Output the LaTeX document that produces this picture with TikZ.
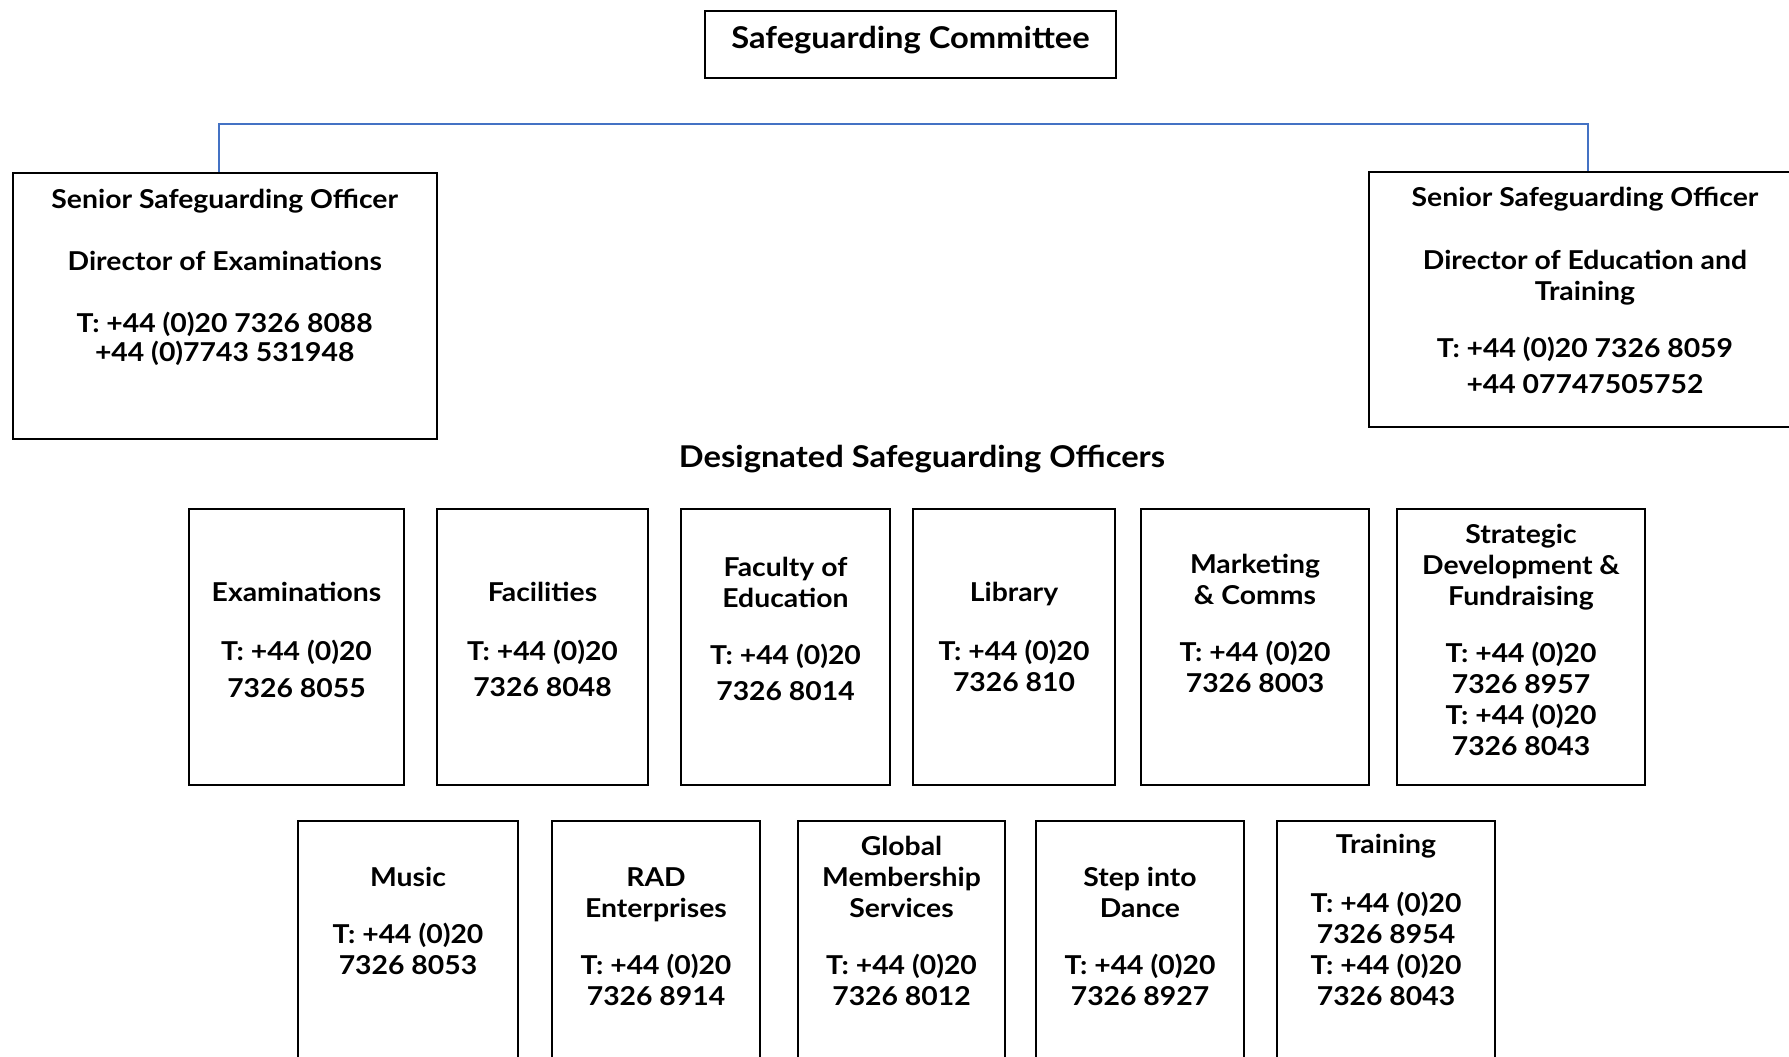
\documentclass[tikz,border=0pt]{standalone}
\usepackage{fontspec}
\setmainfont{Lato}[FakeStretch=1.09]
\definecolor{connblue}{HTML}{4472C4}
\begin{document}
\begin{tikzpicture}[x=1pt,y=-1pt,
  box/.style 2 args={draw=black, line width=2pt, inner sep=0pt, minimum width=#1pt, minimum height=#2pt},
  txt/.style={font=\fontsize{26}{31}\selectfont\bfseries, align=center, anchor=base, inner sep=0pt},
  head/.style={font=\fontsize{30}{36}\selectfont\bfseries, anchor=base, inner sep=0pt},
  conn/.style={draw=connblue, line width=2pt}]
\useasboundingbox (0,0) rectangle (1789,1057);
\clip (0,0) rectangle (1789,1057);
% top
\node[box={411}{67}] (comm) at (910.5,44.5) {};
\node[head] (commT) at (910.5,49) {Safeguarding Committee};
% senior officers
\node[box={424.5}{266}] (ssoL) at (224.75,306) {};
\node[txt] (ssoLT) at (224.75,361) {Senior Safeguarding Officer\\[31pt]Director of Examinations\\[31pt]T: +44 (0)20 7326 8088\\[-2pt]+44 (0)7743 531948};
\node[box={432}{255}] (ssoR) at (1585,299.5) {};
\node[txt] (ssoRT) at (1585,393) {Senior Safeguarding Officer\\[32pt]Director of Education and\\Training\\[26pt]T: +44 (0)20 7326 8059\\[5pt]+44 07747505752};
\coordinate (busL) at (219,124);
\coordinate (busR) at (1588,124);
\draw[conn] (busL |- ssoL.north) -- (busL) -- (busR) -- (busR |- ssoR.north);
% designated
\node[head] (dso) at (922,467) {Designated Safeguarding Officers};
% row 1
\node[box={215}{276}] (exam) at (296.5,647) {};
\node[txt] (examT) at (296.5,697) {Examinations\\[28pt]T: +44 (0)20\\[6pt]7326 8055};
\node[box={211}{276}] (facil) at (542.5,647) {};
\node[txt] (facilT) at (542.5,696) {Facilities\\[28pt]T: +44 (0)20\\[5pt]7326 8048};
\node[box={209}{276}] (fac) at (785.5,647) {};
\node[txt] (facT) at (785.5,700) {Faculty of\\Education\\[26pt]T: +44 (0)20\\[5pt]7326 8014};
\node[box={202}{276}] (lib) at (1014,647) {};
\node[txt] (libT) at (1014,691) {Library\\[28pt]T: +44 (0)20\\7326 810};
\node[box={228}{276}] (mkt) at (1255,647) {};
\node[txt] (mktT) at (1255,692) {Marketing\\\& Comms\\[26pt]T: +44 (0)20\\7326 8003};
\node[box={248}{276}] (strat) at (1521,647) {};
\node[txt] (stratT) at (1521,755) {Strategic\\Development \&\\Fundraising\\[26pt]T: +44 (0)20\\7326 8957\\T: +44 (0)20\\7326 8043};
% row 2
\node[box={220}{276}] (music) at (408,959) {};
\node[txt] (musicT) at (408,974) {Music\\[26pt]T: +44 (0)20\\7326 8053};
\node[box={208}{276}] (rad) at (656,959) {};
\node[txt] (radT) at (656,1005) {RAD\\Enterprises\\[26pt]T: +44 (0)20\\7326 8914};
\node[box={207}{276}] (glob) at (901.5,959) {};
\node[txt] (globT) at (901.5,1005) {Global\\Membership\\Services\\[26pt]T: +44 (0)20\\7326 8012};
\node[box={208}{276}] (step) at (1140,959) {};
\node[txt] (stepT) at (1140,1005) {Step into\\Dance\\[26pt]T: +44 (0)20\\7326 8927};
\node[box={218}{276}] (train) at (1386,959) {};
\node[txt] (trainT) at (1386,1005) {Training\\[28pt]T: +44 (0)20\\7326 8954\\T: +44 (0)20\\7326 8043};
\end{tikzpicture}
\end{document}
